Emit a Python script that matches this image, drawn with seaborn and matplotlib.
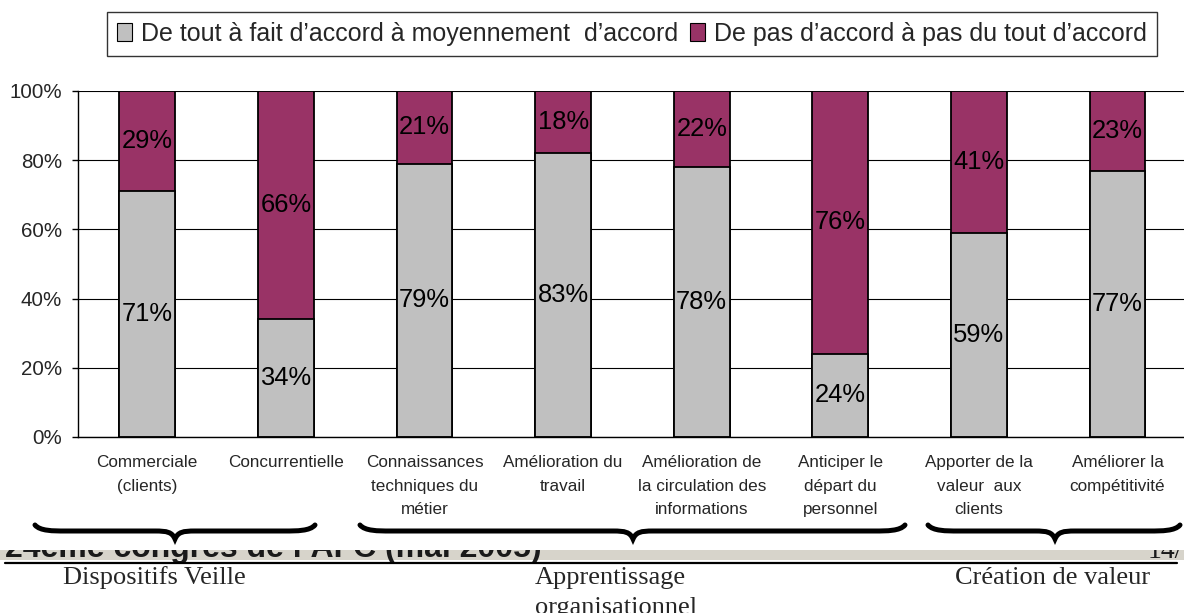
import matplotlib

matplotlib.use("Agg")
import matplotlib.pyplot as plt
import numpy as np
import pandas as pd
import seaborn as sns
from matplotlib.lines import Line2D
from matplotlib.patches import Patch, PathPatch, Rectangle
from matplotlib.path import Path

# data
categories = [
    "Commerciale\n(clients)",
    "Concurrentielle",
    "Connaissances\ntechniques du\nmétier",
    "Amélioration du\ntravail",
    "Amélioration de\nla circulation des\ninformations",
    "Anticiper le\ndépart du\npersonnel",
    "Apporter de la\nvaleur  aux\nclients",
    "Améliorer la\ncompétitivité",
]
accord = [71, 34, 79, 83, 78, 24, 59, 77]
desaccord = [29, 66, 21, 18, 22, 76, 41, 23]
series_labels = [
    "De tout à fait d’accord à moyennement  d’accord",
    "De pas d’accord à pas du tout d’accord",
]
y_ticks = [0, 20, 40, 60, 80, 100]
groups = ["Dispositifs Veille", "Apprentissage\norganisationnel", "Création de valeur"]
footer = "24ème congrès de l’AFC (mai 2005)"
page = "14/"

GRAY = "#C0C0C0"
PURPLE = "#993366"
W, H = 1184, 613

df = pd.DataFrame({"categorie": categories, "accord": accord, "desaccord": desaccord})
total = df["accord"] + df["desaccord"]
df["accord_pct"] = df["accord"] / total * 100
df["total_pct"] = total / total * 100

sns.set_style("white")
plt.rcParams["font.family"] = ["Liberation Sans", "DejaVu Sans"]


def fx(px):
    return px / W


def fy(py):
    return 1 - py / H


fig = plt.figure(figsize=(W / 100, H / 100), dpi=100)
ax = fig.add_axes([fx(78), fy(437), fx(8 * 138.6), (437 - 91) / H])

# 100% stacked bars: full purple bar, grey share drawn over it
sns.barplot(data=df, x="categorie", y="total_pct", color=PURPLE, saturation=1,
            width=0.404, edgecolor="black", linewidth=1.3, ax=ax)
sns.barplot(data=df, x="categorie", y="accord_pct", color=GRAY, saturation=1,
            width=0.404, edgecolor="black", linewidth=1.3, ax=ax)

for i, row in df.iterrows():
    ax.text(i, row["accord_pct"] / 2, f"{row['accord']}%", ha="center", va="center",
            fontsize=18.4, color="black")
    ax.text(i, (row["accord_pct"] + row["total_pct"]) / 2, f"{row['desaccord']}%",
            ha="center", va="center", fontsize=18.4, color="black")

ax.set_xlim(-0.5, len(categories) - 0.5)
ax.set_ylim(0, 100)
ax.set_xlabel("")
ax.set_ylabel("")
ax.set_yticks(y_ticks)
ax.set_yticklabels([f"{v}%" for v in y_ticks], fontsize=14.8)
ax.set_xticklabels(categories, fontsize=12.3, linespacing=1.72, va="top")
ax.set_xticks(np.arange(-0.5, len(categories), 1), minor=True)
ax.tick_params(axis="x", which="major", length=0, pad=13)
ax.tick_params(axis="x", which="minor", length=4.5, width=1, color="black", direction="out")
ax.tick_params(axis="y", length=4.5, width=1, color="black", direction="out", pad=7, left=True)
ax.yaxis.grid(True, color="black", linewidth=0.8)
ax.set_axisbelow(True)
for side in ["top", "right"]:
    ax.spines[side].set_visible(False)
for side in ["left", "bottom"]:
    ax.spines[side].set_color("black")
    ax.spines[side].set_linewidth(1)

handles = [Patch(facecolor=GRAY, edgecolor="black", linewidth=0.8),
           Patch(facecolor=PURPLE, edgecolor="black", linewidth=0.8)]
leg = fig.legend(handles, series_labels, loc="center", bbox_to_anchor=(fx(632), fy(33.5)),
                 ncol=2, frameon=True, fancybox=False, edgecolor="black", fontsize=18,
                 handlelength=0.6, handleheight=0.7, handletextpad=0.35,
                 columnspacing=0.5, borderpad=0.4, borderaxespad=0)
leg.get_frame().set_linewidth(1)

# footer of the slide: band, text, then a white cover so only its lower strip shows
band = Rectangle((0, fy(560)), 1, 10 / H, transform=fig.transFigure,
                 facecolor="#D7D4CB", edgecolor="none", zorder=1)
fig.add_artist(band)
fig.text(fx(5), fy(557), footer, fontsize=23, fontweight="bold", color="#1a1a1a",
         va="baseline", ha="left", zorder=2)
fig.text(fx(1148), fy(558), page, family=["Liberation Serif", "DejaVu Serif"], fontsize=20,
         color="#1a1a1a", va="baseline", ha="left", zorder=2)
cover = Rectangle((0, fy(550)), 1, 32 / H, transform=fig.transFigure,
                  facecolor="white", edgecolor="none", zorder=3)
fig.add_artist(cover)
fig.add_artist(Line2D([fx(5), fx(1177)], [fy(563), fy(563)], color="black", lw=1.6,
                      transform=fig.transFigure, zorder=4))


def brace(x0, x1, xm, ytop=525, ymid=531, ytip=539):
    pts = [(x0, ytop), (x0 + 5, ymid), (x0 + 18, ymid), (x0 + 30, ymid),
           (xm - 20, ymid),
           (xm - 8, ymid), (xm - 3, ymid + 1), (xm, ytip),
           (xm + 3, ymid + 1), (xm + 8, ymid), (xm + 20, ymid),
           (x1 - 30, ymid),
           (x1 - 18, ymid), (x1 - 5, ymid), (x1, ytop)]
    codes = [Path.MOVETO, Path.CURVE4, Path.CURVE4, Path.CURVE4, Path.LINETO,
             Path.CURVE4, Path.CURVE4, Path.CURVE4, Path.CURVE4, Path.CURVE4, Path.CURVE4,
             Path.LINETO, Path.CURVE4, Path.CURVE4, Path.CURVE4]
    path = Path([(fx(x), fy(y)) for x, y in pts], codes)
    fig.add_artist(PathPatch(path, facecolor="none", edgecolor="black", lw=3.6,
                             capstyle="round", transform=fig.transFigure, zorder=5))


brace(35, 315, 175)
brace(360, 905, 633)
brace(928, 1180, 1055)

serif = ["Liberation Serif", "DejaVu Serif"]
fig.text(fx(63), fy(578), groups[0], family=serif, fontsize=19, va="center", ha="left",
         zorder=5)
fig.text(fx(535), fy(567), groups[1], family=serif, fontsize=19, va="top", ha="left",
         linespacing=1.45, zorder=5)
fig.text(fx(955), fy(578), groups[2], family=serif, fontsize=19, va="center", ha="left",
         zorder=5)

fig.savefig("out.png", dpi=100)
